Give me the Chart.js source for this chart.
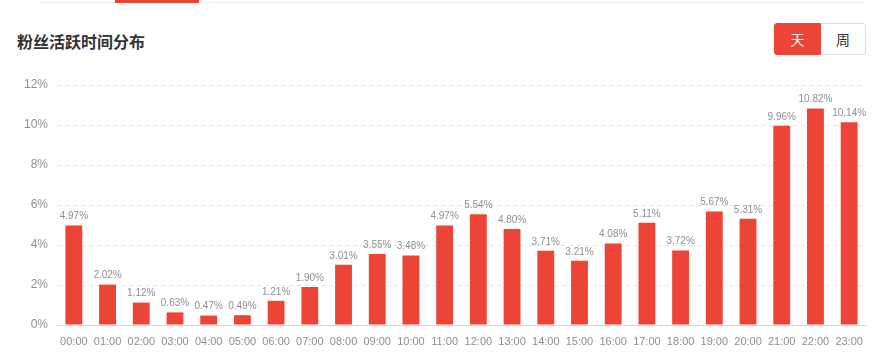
<!DOCTYPE html>
<html>
<head>
<meta charset="utf-8">
<script src="https://cdn.jsdelivr.net/npm/chart.js@4"></script>
<style>
  html, body { margin: 0; padding: 0; background: #fff; }
  body { width: 883px; height: 364px; position: relative; overflow: hidden;
         font-family: "Noto Sans CJK SC", "Noto Sans", sans-serif; }
  .topline { position: absolute; left: 40px; top: 2px; width: 825px; height: 1px; background: #ececec; }
  .topmark { position: absolute; left: 115px; top: 0; width: 84px; height: 3px; background: #ec4537; }
  .title { position: absolute; left: 17px; top: 29px; font-size: 16px; font-weight: bold; color: #333; line-height: 24px; }
  .toggle { position: absolute; left: 774px; top: 23px; height: 32px; display: flex; }
  .toggle span { display: block; width: 45px; height: 30px; line-height: 30px; text-align: center; font-size: 14px; }
  .toggle .on { background: #ec4537; color: #fff; border: 1px solid #ec4537; border-radius: 3px 0 0 3px; }
  .toggle .off { background: #fff; color: #333; border: 1px solid #dcdcdc; border-left: none; border-radius: 0 3px 3px 0; width: 44px; }
  #wrap { position: absolute; left: 0; top: 0; width: 883px; height: 364px; }
</style>
</head>
<body>
<div class="topline"></div>
<div class="topmark"></div>
<div class="title">粉丝活跃时间分布</div>
<div class="toggle"><span class="on">天</span><span class="off">周</span></div>
<div id="wrap"><canvas id="bar_chart"></canvas></div>
<script>
var hours = ['00:00','01:00','02:00','03:00','04:00','05:00','06:00','07:00','08:00','09:00','10:00','11:00',
             '12:00','13:00','14:00','15:00','16:00','17:00','18:00','19:00','20:00','21:00','22:00','23:00'];
var share = [4.97, 2.02, 1.12, 0.63, 0.47, 0.49, 1.21, 1.90, 3.01, 3.55, 3.48, 4.97,
             5.54, 4.80, 3.71, 3.21, 4.08, 5.11, 3.72, 5.67, 5.31, 9.96, 10.82, 10.14];
var yTicks = [0, 2, 4, 6, 8, 10, 12];

// value labels above each bar
var valueLabels = {
    id: 'valueLabels',
    afterDatasetsDraw: function(chart) {
        var ctx = chart.ctx;
        var meta = chart.getDatasetMeta(0);
        ctx.save();
        ctx.font = '10px "Helvetica Neue", "Liberation Sans", Arial, sans-serif';
        ctx.fillStyle = '#8c8f96';
        ctx.textAlign = 'center';
        ctx.textBaseline = 'bottom';
        meta.data.forEach(function(bar, i) {
            ctx.fillText(share[i].toFixed(2) + '%', bar.x, bar.y - 4);
        });
        ctx.restore();
    }
};

var barData = {
    labels: hours,
    datasets: [{
        data: share,
        backgroundColor: '#ec4537',
        barPercentage: 0.5,
        categoryPercentage: 1.0
    }]
};

var barOptions = {
    responsive: true,
    maintainAspectRatio: false,
    animation: false,
    layout: { padding: { left: 0, right: 17, top: 85, bottom: 0 } },
    plugins: { legend: { display: false }, tooltip: { enabled: false } },
    scales: {
        x: {
            grid: { display: false, drawTicks: false },
            border: { color: '#d9d9d9' },
            ticks: { color: '#8c8f96', padding: 10, maxRotation: 0, autoSkip: false,
                     font: { size: 11, family: '"Helvetica Neue", "Liberation Sans", Arial, sans-serif' } },
            afterFit: function(scale) { scale.height = 39; }
        },
        y: {
            min: yTicks[0],
            max: yTicks[yTicks.length - 1],
            afterBuildTicks: function(scale) { scale.ticks = yTicks.map(function(v) { return { value: v }; }); },
            grid: {
                drawTicks: false,
                color: function(c) { return c.tick && c.tick.value === 0 ? 'rgba(0,0,0,0)' : '#e3e3e3'; }
            },
            border: { display: false, dash: [4, 4] },
            ticks: { color: '#8c8f96', padding: 9,
                     font: { size: 12, family: '"Helvetica Neue", "Liberation Sans", Arial, sans-serif' },
                     callback: function(v) { return v + '%'; } },
            afterFit: function(scale) { scale.width = 57; }
        }
    }
};

var ctx = document.getElementById("bar_chart").getContext("2d");
new Chart(ctx, { type: 'bar', data: barData, options: barOptions, plugins: [valueLabels] });
</script>
</body>
</html>
